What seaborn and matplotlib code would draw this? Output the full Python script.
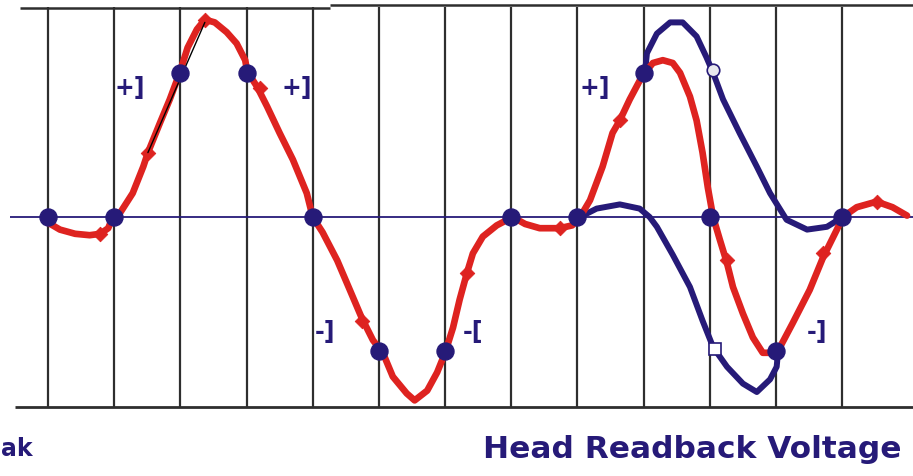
import matplotlib
matplotlib.use("Agg")
import matplotlib.pyplot as plt
import seaborn as sns

# sample positions (bit cells) and the sampled levels at each one
sample_x = list(range(13))
sample_y = [0, 0, 1.03, 1.03, 0, -0.96, -0.96, 0, 0, 1.03, 0, -0.96, 0]

# red readback waveform
red_x = [0.0, 0.18, 0.41, 0.63, 0.79, 0.91, 0.98, 1.09, 1.28, 1.44, 1.51, 1.69, 1.84, 1.99,
         2.11, 2.25, 2.37, 2.52, 2.70, 2.85, 2.98, 3.01, 3.16, 3.31, 3.50, 3.70, 3.91, 4.0,
         4.15, 4.37, 4.56, 4.74, 4.91, 5.06, 5.21, 5.42, 5.54, 5.73, 5.88, 6.00, 6.12, 6.22,
         6.33, 6.42, 6.57, 6.78, 7.02, 7.21, 7.43, 7.73, 7.92, 8.04, 8.19, 8.38, 8.53, 8.64,
         8.79, 8.97, 9.14, 9.29, 9.44, 9.55, 9.70, 9.80, 9.89, 9.97, 10.05, 10.15, 10.26,
         10.35, 10.50, 10.65, 10.80, 10.95, 11.06, 11.25, 11.51, 11.71, 11.92, 12.01, 12.22,
         12.52, 12.76, 12.98]
red_y = [-0.04, -0.09, -0.12, -0.13, -0.12, -0.08, 0.0, 0.03, 0.17, 0.36, 0.46, 0.67, 0.84, 1.03,
         1.21, 1.34, 1.41, 1.39, 1.32, 1.24, 1.12, 1.04, 0.93, 0.79, 0.60, 0.41, 0.17, 0.0,
         -0.11, -0.31, -0.52, -0.72, -0.88, -0.97, -1.14, -1.26, -1.31, -1.24, -1.11, -0.97, -0.79,
         -0.59, -0.40, -0.26, -0.14, -0.06, 0.0, -0.05, -0.08, -0.08, -0.06, 0.0, 0.12, 0.36, 0.60,
         0.69, 0.84, 1.00, 1.10, 1.12, 1.10, 1.03, 0.86, 0.69, 0.46, 0.21, 0.0, -0.16, -0.33,
         -0.50, -0.69, -0.86, -0.97, -0.97, -0.93, -0.76, -0.52, -0.29, -0.09, 0.0, 0.07,
         0.11, 0.07, 0.01]

# small markers sitting on the red waveform
red_mark_x = [0.79, 1.51, 2.37, 3.20, 4.74, 6.33, 7.73, 8.64, 10.26, 11.71, 12.52]
red_mark_y = [-0.12, 0.46, 1.41, 0.92, -0.74, -0.40, -0.08, 0.69, -0.31, -0.26, 0.11]

# two blue alternative waveforms
blue_up_x = [9.02, 9.05, 9.20, 9.40, 9.59, 9.80, 9.95, 10.05, 10.20, 10.45, 10.71, 10.91,
             11.16, 11.47, 11.77, 12.01]
blue_up_y = [1.03, 1.17, 1.31, 1.39, 1.39, 1.29, 1.14, 1.03, 0.84, 0.60, 0.36, 0.17,
             -0.02, -0.09, -0.07, 0.0]
blue_dn_x = [8.04, 8.29, 8.64, 8.94, 9.09, 9.20, 9.44, 9.70, 9.89, 10.05, 10.26, 10.50,
             10.71, 10.91, 11.01, 11.03]
blue_dn_y = [0.0, 0.06, 0.09, 0.06, 0.0, -0.07, -0.27, -0.50, -0.74, -0.93, -1.07, -1.19,
             -1.25, -1.16, -1.07, -0.97]

# open markers
open_circle = (10.05, 1.05)
open_square = (10.08, -0.94)

# tangent segment
tangent_x = [1.51, 2.37]
tangent_y = [0.46, 1.39]

# level labels
label_text = ["+]", "+]", "+]", "-]", "-[", "-]"]
label_x = [1.24, 3.76, 8.26, 4.19, 6.42, 11.62]
label_y = [0.92, 0.92, 0.92, -0.82, -0.82, -0.82]

RED = "#de2320"
NAVY = "#261a78"
GRID = "#2e2e2e"

sns.set_style("white")
plt.rcParams["font.family"] = ["DejaVu Sans"]

fig = plt.figure(figsize=(9.13, 4.76), dpi=100)
ax = fig.add_axes([0, 0, 1, 1])
ax.set_xlim(-0.725, 13.07)
ax.set_ylim(-1.85, 1.55)
ax.axis("off")

# frame lines and cell grid
ax.vlines(sample_x, -1.357, 1.50, color=GRID, lw=1.6, zorder=1)
ax.hlines(1.493, -0.42, 4.26, color=GRID, lw=1.8, zorder=1)
ax.hlines(1.515, 4.26, 13.07, color=GRID, lw=1.8, zorder=1)
ax.hlines(-1.357, -0.5, 13.07, color=GRID, lw=2.0, zorder=1)
ax.hlines(0, -0.57, 13.07, color=NAVY, lw=1.3, zorder=1)

sns.lineplot(x=blue_up_x, y=blue_up_y, sort=False, estimator=None, color=NAVY,
             lw=4.3, ax=ax, zorder=3)
sns.lineplot(x=blue_dn_x, y=blue_dn_y, sort=False, estimator=None, color=NAVY,
             lw=4.3, ax=ax, zorder=3)
sns.lineplot(x=red_x, y=red_y, sort=False, estimator=None, color=RED,
             lw=4.8, ax=ax, zorder=4)
sns.scatterplot(x=red_mark_x, y=red_mark_y, marker="D", s=55, color=RED,
                edgecolor=RED, ax=ax, zorder=4)
ax.plot(tangent_x, tangent_y, color="black", lw=1.0, zorder=5)

sns.scatterplot(x=sample_x, y=sample_y, s=150, color=NAVY, edgecolor=NAVY,
                ax=ax, zorder=6)
ax.plot(*open_circle, marker="o", ms=9, mfc="#e8e8ee", mec=NAVY, mew=1.2, zorder=6)
ax.plot(*open_square, marker="s", ms=8, mfc="white", mec=NAVY, mew=1.2, zorder=6)

for t, x, y in zip(label_text, label_x, label_y):
    ax.text(x, y, t, color=NAVY, fontsize=17, fontweight="bold",
            ha="center", va="center", zorder=7)

ax.text(-0.71, -1.66, "ak", color=NAVY, fontsize=17, fontweight="bold",
        ha="left", va="center")
ax.text(9.73, -1.66, "Head Readback Voltage", color=NAVY, fontsize=22.5,
        fontweight="bold", ha="center", va="center")

fig.savefig("out.png", dpi=100)
